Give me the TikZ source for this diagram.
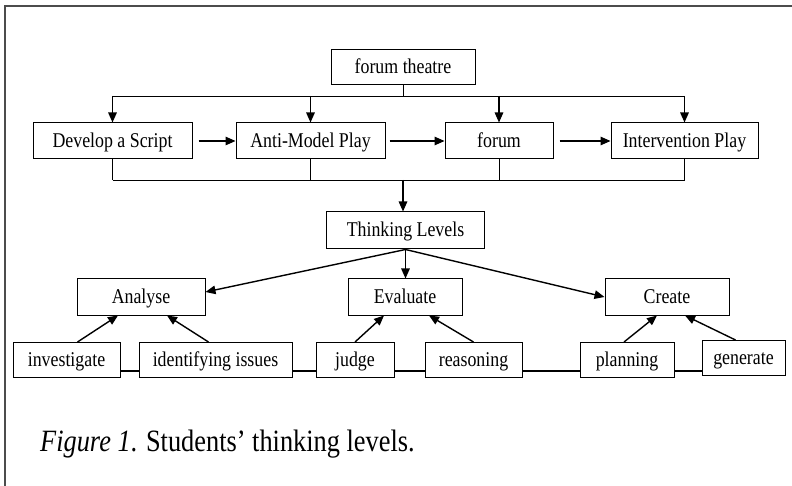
\documentclass[tikz,border=0pt]{standalone}
\usepackage{fontspec}
\setmainfont{Liberation Serif}[FakeStretch=0.85]
\usetikzlibrary{positioning,arrows.meta}

\begin{document}
\begin{tikzpicture}[
    x=1pt, y=-1pt,
    box/.style={rectangle, draw, line width=1pt, fill=white, minimum height=35pt, inner sep=2pt,
        text height=17pt, text depth=4pt, font=\fontsize{21}{23}\selectfont},
    arrow/.style={-{Triangle[length=10pt,width=8.5pt]}, line width=1.4pt},
    link/.style={line width=0.9pt},
    base/.style={line width=2.4pt},
    frame/.style={line width=1.5pt, gray!60!black}
]
    \useasboundingbox (0,0) rectangle (792,486);
    \draw[frame] (792,6) -- (5,6) -- (5,486);

    % Forum theatre stages
    \node[box, minimum width=144pt] (theatre) at (403,67) {forum theatre};
    \node[box, minimum width=159pt, minimum height=36pt] (script) at (112.5,141) {Develop a Script};
    \node[box, minimum width=149pt, minimum height=36pt, right=43pt of script] (antimodel) {Anti-Model Play};
    \node[box, minimum width=108pt, minimum height=36pt, right=59pt of antimodel] (forum) {forum};
    \node[box, minimum width=147pt, minimum height=36pt, right=57pt of forum] (intervention) {Intervention Play};

    % Thinking levels
    \node[box, minimum width=158pt, minimum height=37pt] (levels) at (405.5,230.5) {Thinking Levels};
    \node[box, minimum width=128pt, minimum height=36pt] (analyse) at (141,297) {Analyse};
    \node[box, minimum width=114pt, minimum height=36pt, right=142pt of analyse] (evaluate) {Evaluate};
    \node[box, minimum width=124pt, minimum height=36pt, right=142pt of evaluate] (create) {Create};

    % Skills
    \node[box, minimum width=107pt] (investigate) at (66.5,360) {investigate};
    \node[box, minimum width=153pt, right=18pt of investigate] (issues) {identifying issues};
    \node[box, minimum width=78pt, right=23pt of issues] (judge) {judge};
    \node[box, minimum width=97pt, right=30pt of judge] (reasoning) {reasoning};
    \node[box, minimum width=94pt, right=57pt of reasoning] (planning) {planning};
    \node[box, minimum width=83pt, right=27pt of planning, yshift=2pt] (generate) {generate};

    % Caption
    \node[anchor=base west, inner sep=0pt, font=\fontsize{31}{33}\selectfont] (caption) at (40,451)
        {\textit{Figure 1}. Students’ thinking levels.};

    % Split from forum theatre
    \coordinate (split) at (403,96);
    \draw[link] (theatre) -- (split);
    \draw[link] (script.north |- split) -- (intervention.north |- split);
    \foreach \n in {script, antimodel, forum, intervention}
        \draw[arrow] (\n.north |- split) -- (\n.north);

    % Sequence of stages
    \draw[arrow, shorten <=6pt] (script) -- (antimodel);
    \draw[arrow, shorten <=4pt] (antimodel) -- (forum);
    \draw[arrow, shorten <=6pt] (forum) -- (intervention);

    % Join into thinking levels
    \coordinate (join) at (403,180);
    \foreach \n in {script, antimodel, forum, intervention}
        \draw[link] (\n.south) -- (\n.south |- join);
    \draw[link] (script.south |- join) -- (intervention.south |- join);
    \draw[arrow] (join) -- (join |- levels.north);

    % Levels
    \draw[arrow] (levels.south) -- ([yshift=5pt]analyse.east);
    \draw[arrow] (levels.south) -- (levels.south |- evaluate.north);
    \draw[arrow] (levels.south) -- (create.west);

    % Skills to levels
    \draw[arrow] ([xshift=11pt]investigate.north) -- ([xshift=-23pt]analyse.south);
    \draw[arrow] ([xshift=-7pt]issues.north) -- ([xshift=26pt]analyse.south);
    \draw[arrow] (judge.north) -- ([xshift=-21pt]evaluate.south);
    \draw[arrow] (reasoning.north) -- ([xshift=24pt]evaluate.south);
    \draw[arrow] ([xshift=-3pt]planning.north) -- ([xshift=-10pt]create.south);
    \draw[arrow] ([xshift=-8pt]generate.north) -- ([xshift=18pt]create.south);

    % Base line under the skills
    \foreach \a/\b in {investigate/issues, issues/judge, judge/reasoning, reasoning/planning, planning/generate}
        \draw[base] ([yshift=-11pt]\a.east) -- ([yshift=-11pt]\a.east -| \b.west);
\end{tikzpicture}
\end{document}
